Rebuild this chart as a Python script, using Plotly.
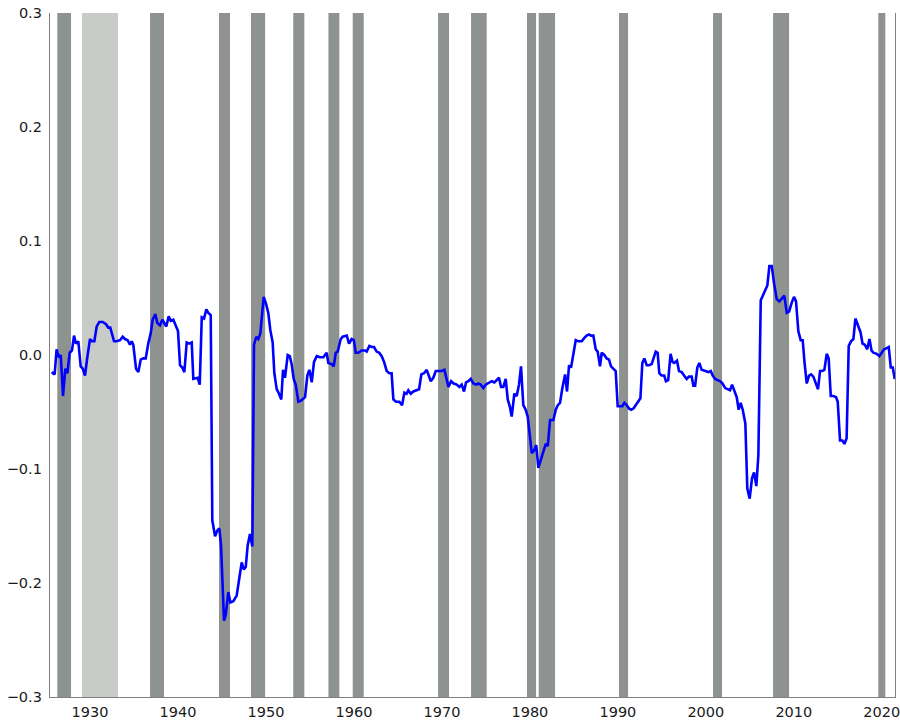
import plotly.graph_objects as go

# ---- data ----
dates = [
1925.64,1925.98,1926.20,1926.44,1926.67,1926.93,1927.19,1927.42,1927.69,1927.95,
1928.18,1928.40,1928.67,1928.94,1929.17,1929.43,1929.69,1930.00,1930.22,1930.49,
1930.76,1931.05,1931.44,1931.82,1932.08,1932.30,1932.73,1933.03,1933.41,1933.71,
1933.97,1934.28,1934.54,1934.74,1934.92,1935.23,1935.49,1935.76,1936.06,1936.33,
1936.62,1936.90,1937.12,1937.42,1937.65,1937.95,1938.22,1938.42,1938.67,1938.94,
1939.17,1939.47,1939.77,1940.00,1940.23,1940.49,1940.72,1940.99,1941.25,1941.56,
1941.74,1942.05,1942.24,1942.47,1942.70,1942.96,1943.22,1943.45,1943.72,1943.90,
1944.21,1944.47,1944.70,1944.89,1945.23,1945.42,1945.72,1945.95,1946.29,1946.67,
1946.94,1947.24,1947.47,1947.70,1947.92,1948.18,1948.45,1948.64,1948.90,1949.13,
1949.36,1949.74,1950.00,1950.26,1950.49,1950.76,1950.95,1951.22,1951.48,1951.74,
1951.94,1952.16,1952.47,1952.70,1952.92,1953.15,1953.38,1953.68,1953.98,1954.44,
1954.70,1954.93,1955.20,1955.46,1955.77,1956.14,1956.52,1956.90,1957.09,1957.47,
1957.70,1957.93,1958.15,1958.50,1958.72,1959.18,1959.44,1959.74,1959.99,1960.20,
1960.50,1960.88,1961.26,1961.45,1961.75,1962.02,1962.28,1962.58,1962.88,1963.15,
1963.42,1963.72,1964.02,1964.28,1964.48,1964.78,1965.16,1965.47,1965.73,1965.98,
1966.18,1966.45,1966.75,1967.13,1967.40,1967.66,1967.97,1968.27,1968.47,1968.73,
1969.02,1969.30,1969.60,1969.98,1970.28,1970.47,1970.74,1971.04,1971.34,1971.68,
1971.98,1972.24,1972.51,1972.74,1973.00,1973.27,1973.57,1973.88,1974.14,1974.40,
1974.71,1974.97,1975.27,1975.66,1975.96,1976.22,1976.49,1976.72,1976.98,1977.25,
1977.48,1977.71,1977.93,1978.23,1978.50,1978.76,1978.99,1979.25,1979.52,1979.75,
1980.01,1980.21,1980.46,1980.72,1980.96,1981.26,1981.52,1981.80,1982.03,1982.29,
1982.67,1982.94,1983.17,1983.42,1983.69,1984.00,1984.22,1984.45,1984.68,1984.94,
1985.21,1985.51,1985.89,1986.19,1986.45,1986.72,1986.95,1987.21,1987.48,1987.70,
1987.97,1988.16,1988.46,1988.73,1988.99,1989.22,1989.47,1989.75,1989.98,1990.24,
1990.50,1990.74,1991.00,1991.27,1991.50,1991.77,1992.03,1992.33,1992.56,1992.78,
1993.01,1993.28,1993.54,1993.84,1994.03,1994.30,1994.52,1994.71,1994.96,1995.27,
1995.46,1995.72,1995.99,1996.21,1996.40,1996.72,1996.95,1997.25,1997.52,1997.82,
1998.08,1998.39,1998.58,1998.78,1999.03,1999.26,1999.52,1999.91,2000.29,2000.56,
2000.78,2001.05,2001.31,2001.64,2001.90,2002.20,2002.47,2002.75,2002.98,2003.20,
2003.51,2003.73,2003.96,2004.19,2004.49,2004.71,2004.98,2005.25,2005.48,2005.74,
2005.97,2006.24,2006.62,2006.99,2007.22,2007.49,2007.75,2008.06,2008.36,2008.63,
2008.92,2009.20,2009.46,2009.76,2010.02,2010.25,2010.51,2010.78,2011.01,2011.21,
2011.47,2011.73,2011.96,2012.22,2012.53,2012.75,2012.98,2013.24,2013.47,2013.74,
2013.96,2014.20,2014.50,2014.80,2014.99,2015.25,2015.52,2015.75,2016.00,2016.24,
2016.50,2016.77,2017.00,2017.25,2017.58,2017.81,2018.07,2018.34,2018.60,2018.83,
2019.04,2019.42,2019.72,2019.99,2020.26,2020.56,2020.79,2021.02,2021.25,2021.47,
]

values = [
-0.015,-0.017,0.005,-0.002,0.000,-0.036,-0.012,-0.016,0.002,0.004,
0.017,0.010,0.012,-0.010,-0.012,-0.018,-0.002,0.014,0.012,0.012,
0.025,0.029,0.029,0.027,0.024,0.024,0.012,0.012,0.013,0.016,
0.014,0.013,0.009,0.012,0.009,-0.012,-0.015,-0.004,-0.003,-0.003,
0.010,0.019,0.031,0.036,0.028,0.026,0.031,0.028,0.025,0.034,
0.030,0.031,0.026,0.021,-0.009,-0.011,-0.015,0.011,0.010,0.011,
-0.021,-0.020,-0.020,-0.026,0.033,0.032,0.040,0.037,0.035,-0.145,
-0.159,-0.154,-0.152,-0.167,-0.233,-0.228,-0.208,-0.217,-0.216,-0.211,
-0.195,-0.182,-0.188,-0.186,-0.167,-0.157,-0.168,0.009,0.016,0.014,
0.019,0.051,0.045,0.037,0.022,0.011,-0.016,-0.030,-0.034,-0.039,
-0.013,-0.020,0.000,-0.001,-0.008,-0.021,-0.026,-0.041,-0.040,-0.037,
-0.018,-0.013,-0.024,-0.006,-0.001,-0.002,-0.002,0.002,-0.007,-0.008,
-0.010,0.002,0.003,0.014,0.016,0.017,0.010,0.014,0.013,0.002,
0.002,0.004,0.004,0.003,0.008,0.007,0.007,0.003,0.002,-0.001,
-0.006,-0.014,-0.016,-0.016,-0.039,-0.041,-0.041,-0.044,-0.033,-0.034,
-0.031,-0.034,-0.032,-0.031,-0.030,-0.017,-0.016,-0.013,-0.017,-0.023,
-0.020,-0.014,-0.014,-0.014,-0.013,-0.020,-0.028,-0.023,-0.025,-0.026,
-0.028,-0.026,-0.032,-0.024,-0.023,-0.021,-0.025,-0.026,-0.025,-0.026,
-0.029,-0.026,-0.025,-0.023,-0.024,-0.022,-0.020,-0.028,-0.028,-0.021,
-0.039,-0.045,-0.054,-0.034,-0.036,-0.026,-0.010,-0.044,-0.048,-0.054,
-0.070,-0.086,-0.084,-0.079,-0.099,-0.092,-0.086,-0.078,-0.080,-0.057,
-0.057,-0.048,-0.044,-0.042,-0.029,-0.017,-0.032,-0.009,-0.011,0.003,
0.013,0.012,0.012,0.015,0.017,0.018,0.017,0.017,0.005,0.003,
-0.010,0.002,0.000,-0.003,-0.004,-0.010,-0.012,-0.014,-0.045,-0.045,
-0.045,-0.042,-0.044,-0.047,-0.048,-0.047,-0.044,-0.040,-0.038,-0.007,
-0.003,-0.009,-0.009,-0.008,-0.004,0.003,0.002,-0.016,-0.018,-0.018,
-0.023,-0.022,0.001,-0.006,-0.007,-0.005,-0.014,-0.015,-0.018,-0.021,
-0.019,-0.019,-0.027,-0.027,-0.011,-0.007,-0.013,-0.014,-0.015,-0.014,
-0.018,-0.021,-0.022,-0.023,-0.025,-0.029,-0.030,-0.031,-0.026,-0.030,
-0.037,-0.048,-0.042,-0.048,-0.060,-0.117,-0.126,-0.108,-0.103,-0.115,
-0.088,0.048,0.054,0.061,0.078,0.078,0.063,0.049,0.047,0.049,
0.052,0.037,0.038,0.046,0.051,0.047,0.021,0.013,0.013,-0.006,
-0.025,-0.018,-0.017,-0.019,-0.025,-0.030,-0.014,-0.014,-0.013,0.001,
-0.003,-0.036,-0.036,-0.037,-0.041,-0.075,-0.075,-0.078,-0.073,0.008,
0.012,0.014,0.032,0.026,0.020,0.010,0.009,0.005,0.014,0.004,
0.002,0.001,-0.001,0.002,0.005,0.006,0.007,-0.011,-0.011,-0.021,
]

# recession periods (start, end) and whether shaded light (Great Depression)
band_start = [1926.28,1929.09,1936.82,1944.66,1948.30,1953.10,1957.10,1959.86,
              1969.56,1973.31,1979.67,1981.00,1990.13,2000.82,2007.64,2019.60]
band_end   = [1927.84,1933.18,1938.41,1945.91,1949.90,1954.36,1958.34,1961.11,
              1970.81,1975.09,1980.70,1982.86,1991.16,2001.84,2009.46,2020.40]
band_light = [False,True,False,False,False,False,False,False,
              False,False,False,False,False,False,False,False]

x_ticks = [1930,1940,1950,1960,1970,1980,1990,2000,2010,2020]
y_ticks = [-0.3,-0.2,-0.1,0.0,0.1,0.2,0.3]

DARK = "#8f9390"
LIGHT = "#c9cbc8"

fig = go.Figure()
fig.add_trace(go.Scatter(x=dates, y=values, mode="lines",
                         line=dict(color="#0000ff", width=2.6),
                         showlegend=False, hoverinfo="skip"))

shapes = []
for s, e, lt in zip(band_start, band_end, band_light):
    shapes.append(dict(type="rect", xref="x", yref="paper", x0=s, x1=e, y0=0, y1=1,
                       fillcolor=LIGHT if lt else DARK, line=dict(width=0),
                       layer="below"))

fig.update_layout(
    template="none",
    width=900, height=722,
    margin=dict(l=50, r=5, t=13, b=25, autoexpand=False),
    paper_bgcolor="white", plot_bgcolor="white",
    shapes=shapes,
    showlegend=False,
    font=dict(family="DejaVu Sans, Arial, sans-serif", size=14.5, color="#1a1a1a"),
    xaxis=dict(range=[1925.45, 2021.5], tickvals=x_ticks, showgrid=False, zeroline=False,
               showline=True, linecolor="#808080", linewidth=1.3, mirror=False,
               ticks="", ticklabelstandoff=1, automargin=False,
               ticklabeloverflow="allow"),
    yaxis=dict(range=[-0.3, 0.3], tickvals=y_ticks, tickformat=".1f", showgrid=False,
               zeroline=False, showline=True, linecolor="#808080", linewidth=1.3,
               mirror=True, ticks="", ticklabelstandoff=4, automargin=False,
               ticklabeloverflow="allow"),
)

# remove the browser's default page margin so the figure fills the window
fig.write_html("out.html",
               config={"displayModeBar": False},
               post_script="document.body.style.margin='0';document.body.style.overflow='hidden';")
